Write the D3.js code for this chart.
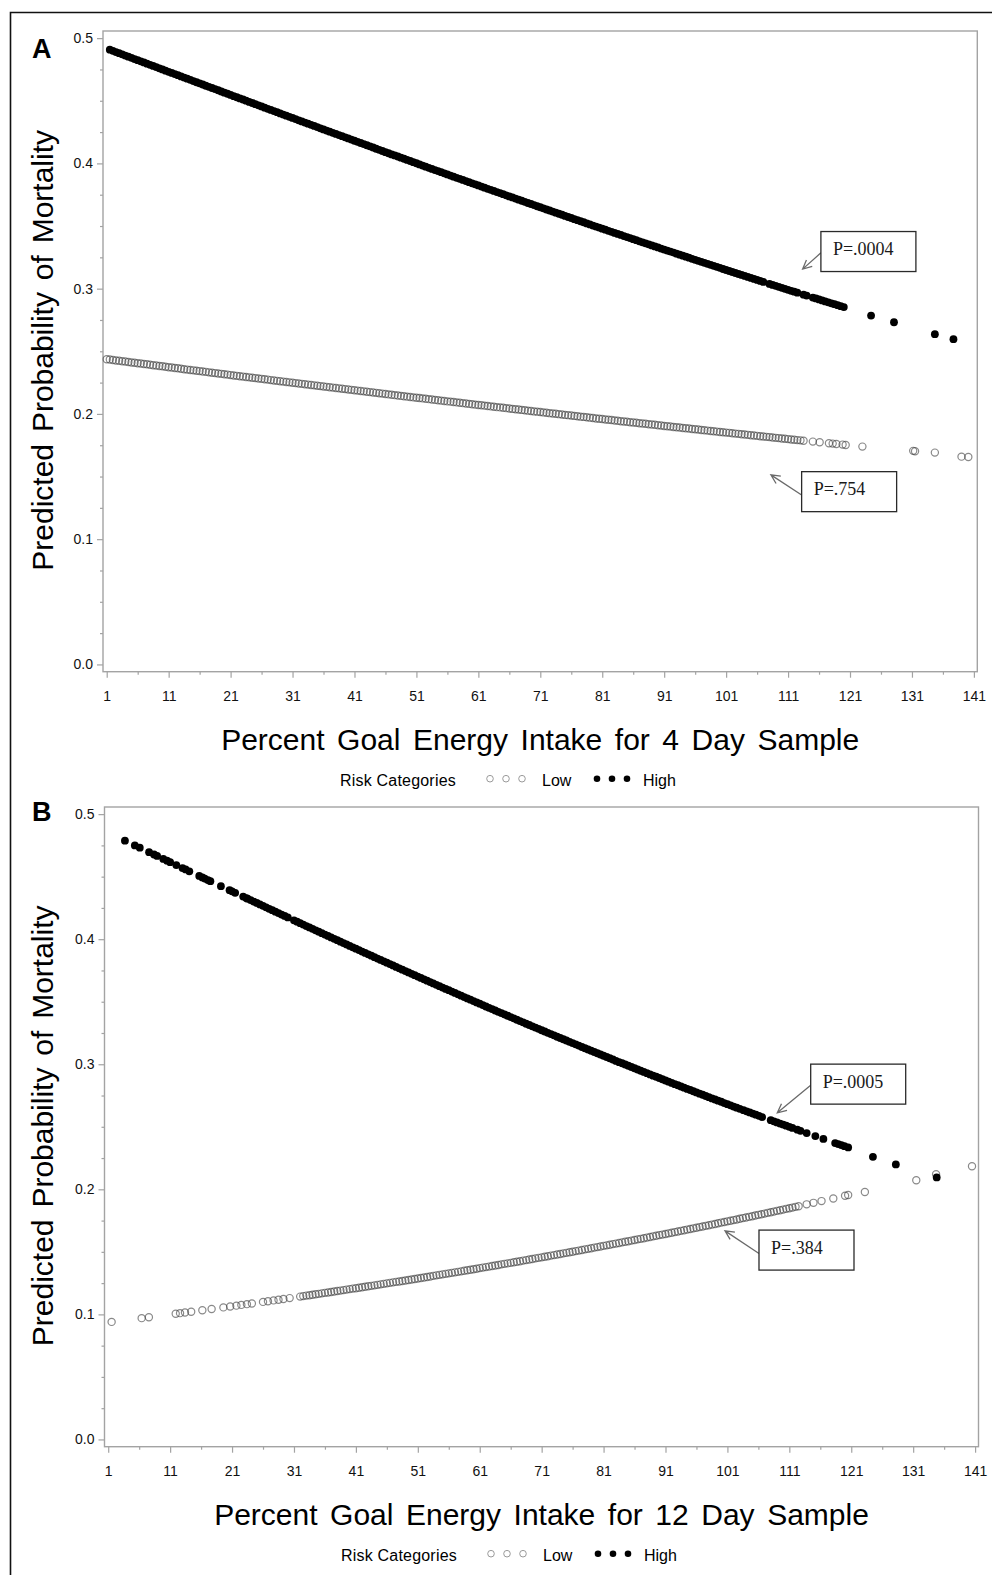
<!DOCTYPE html>
<html>
<head>
<meta charset="utf-8">
<script src="https://cdn.jsdelivr.net/npm/d3@7"></script>
<style>
  body { margin: 0; background: #fff; }
  svg { display: block; }
</style>
</head>
<body>
<svg id="chart"></svg>
<script>
// ---- data ----
const xMajorTicks = [1, 11, 21, 31, 41, 51, 61, 71, 81, 91, 101, 111, 121, 131, 141];
const xMinorTicks = [6, 16, 26, 36, 46, 56, 66, 76, 86, 96, 106, 116, 126, 136];
const yMajorTicks = [0, 0.1, 0.2, 0.3, 0.4, 0.5];
const yMinorTicks = [0.025, 0.05, 0.075, 0.125, 0.15, 0.175, 0.225, 0.25, 0.275, 0.325, 0.35, 0.375, 0.425, 0.45, 0.475];
const groups = ["Low", "High"];
const xTitles = ["Percent Goal Energy Intake for 4 Day Sample", "Percent Goal Energy Intake for 12 Day Sample"];
const yTitle = "Predicted Probability of Mortality";
const legendTitle = "Risk Categories";

// panel A, high risk
const aHighPct = [
  1.5,2,2.5,3,3.5,4,4.5,5,5.5,6, 6.5,7,7.5,8,8.5,9,9.5,10,10.5,11,
  11.5,12,12.5,13,13.5,14,14.5,15,15.5,16, 16.5,17,17.5,18,18.5,19,19.5,20,20.5,21,
  21.5,22,22.5,23,23.5,24,24.5,25,25.5,26, 26.5,27,27.5,28,28.5,29,29.5,30,30.5,31,
  31.5,32,32.5,33,33.5,34,34.5,35,35.5,36, 36.5,37,37.5,38,38.5,39,39.5,40,40.5,41,
  41.5,42,42.5,43,43.5,44,44.5,45,45.5,46, 46.5,47,47.5,48,48.5,49,49.5,50,50.5,51,
  51.5,52,52.5,53,53.5,54,54.5,55,55.5,56, 56.5,57,57.5,58,58.5,59,59.5,60,60.5,61,
  61.5,62,62.5,63,63.5,64,64.5,65,65.5,66, 66.5,67,67.5,68,68.5,69,69.5,70,70.5,71,
  71.5,72,72.5,73,73.5,74,74.5,75,75.5,76, 76.5,77,77.5,78,78.5,79,79.5,80,80.5,81,
  81.5,82,82.5,83,83.5,84,84.5,85,85.5,86, 86.5,87,87.5,88,88.5,89,89.5,90,90.5,91,
  91.5,92,92.5,93,93.5,94,94.5,95,95.5,96, 96.5,97,97.5,98,98.5,99,99.5,100,100.5,101,
  101.5,102,102.5,103,103.5,104,104.5,105,105.5,106,
  106.5,107,108,108.5,109,109.5,110,110.5,111,111.5, 112,112.5,113.5,114,115,115.5,116,116.5,117,117.5,
  118,118.5,119,119.5,120,124.4,128.1,134.7,137.7
];
const aHighProb = [
  .4908,.4899,.4889,.4880,.4871,.4861,.4852,.4843,.4833,.4824, .4815,.4806,.4796,.4787,.4778,.4769,.4759,.4750,.4740,.4731,
  .4722,.4713,.4704,.4694,.4685,.4676,.4667,.4657,.4648,.4639, .4630,.4620,.4611,.4602,.4593,.4584,.4574,.4565,.4556,.4547,
  .4537,.4528,.4519,.4510,.4501,.4491,.4482,.4473,.4464,.4455, .4445,.4436,.4427,.4418,.4409,.4399,.4390,.4381,.4372,.4363,
  .4354,.4344,.4335,.4326,.4317,.4308,.4299,.4290,.4280,.4271, .4262,.4253,.4244,.4235,.4226,.4217,.4208,.4199,.4190,.4181,
  .4172,.4163,.4154,.4145,.4136,.4127,.4117,.4108,.4099,.4090, .4081,.4072,.4064,.4055,.4046,.4037,.4028,.4019,.4010,.4001,
  .3992,.3983,.3974,.3965,.3956,.3947,.3939,.3930,.3921,.3912, .3903,.3894,.3885,.3877,.3868,.3859,.3850,.3841,.3833,.3824,
  .3815,.3806,.3797,.3789,.3780,.3771,.3763,.3754,.3745,.3736, .3728,.3719,.3710,.3702,.3693,.3684,.3676,.3667,.3658,.3650,
  .3641,.3632,.3624,.3615,.3607,.3598,.3590,.3581,.3572,.3564, .3555,.3547,.3538,.3530,.3521,.3513,.3504,.3496,.3488,.3479,
  .3471,.3462,.3454,.3445,.3437,.3429,.3420,.3412,.3404,.3395, .3387,.3378,.3370,.3362,.3354,.3345,.3337,.3329,.3320,.3312,
  .3304,.3296,.3288,.3279,.3271,.3263,.3255,.3247,.3238,.3230, .3222,.3214,.3206,.3198,.3190,.3182,.3174,.3166,.3157,.3149,
  .3141,.3133,.3125,.3117,.3110,.3102,.3094,.3086,.3078,.3070,
  .3062,.3054,.3038,.3030,.3023,.3015,.3007,.2999,.2991,.2983, .2976,.2968,.2952,.2945,.2929,.2922,.2914,.2906,.2898,.2891,
  .2883,.2876,.2868,.2860,.2853,.2785,.2732,.2637,.2597
];

// panel A, low risk
const aLowPct = [
  1,1.5,2,2.5,3,3.5,4,4.5,5,5.5,6,6.5,7,7.5,8,8.5,9,9.5,10,10.5,
  11,11.5,12,12.5,13,13.5,14,14.5,15,15.5,16,16.5,17,17.5,18,18.5,19,19.5,20,20.5,
  21,21.5,22,22.5,23,23.5,24,24.5,25,25.5,26,26.5,27,27.5,28,28.5,29,29.5,30,30.5,
  31,31.5,32,32.5,33,33.5,34,34.5,35,35.5,36,36.5,37,37.5,38,38.5,39,39.5,40,40.5,
  41,41.5,42,42.5,43,43.5,44,44.5,45,45.5,46,46.5,47,47.5,48,48.5,49,49.5,50,50.5,
  51,51.5,52,52.5,53,53.5,54,54.5,55,55.5,56,56.5,57,57.5,58,58.5,59,59.5,60,60.5,
  61,61.5,62,62.5,63,63.5,64,64.5,65,65.5,66,66.5,67,67.5,68,68.5,69,69.5,70,70.5,
  71,71.5,72,72.5,73,73.5,74,74.5,75,75.5,76,76.5,77,77.5,78,78.5,79,79.5,80,80.5,
  81,81.5,82,82.5,83,83.5,84,84.5,85,85.5,86,86.5,87,87.5,88,88.5,89,89.5,90,90.5,
  91,91.5,92,92.5,93,93.5,94,94.5,95,95.5,96,96.5,97,97.5,98,98.5,99,99.5,100,100.5,
  101,101.5,102,102.5,103,103.5,104,104.5,105,105.5,106,106.5,107,107.5,108,108.5,109,109.5,110,110.5,
  111,111.5,112,112.5,113,113.5,
  115,116.1,117.6,118.2,118.8,119.8,120.3,123,131.2,131.5,134.7,139,140.1
];
const aLowProb = [
  .2437,.2434,.2431,.2427,.2424,.2421,.2418,.2415,.2411,.2408,.2405,.2402,.2399,.2396,.2392,.2389,.2386,.2383,.2380,.2376,
  .2373,.2370,.2367,.2364,.2361,.2357,.2354,.2351,.2348,.2345,.2342,.2339,.2336,.2332,.2329,.2326,.2323,.2320,.2317,.2314,
  .2310,.2307,.2304,.2301,.2298,.2295,.2292,.2289,.2286,.2283,.2280,.2277,.2274,.2270,.2267,.2264,.2261,.2258,.2255,.2252,
  .2249,.2246,.2243,.2240,.2237,.2234,.2231,.2228,.2225,.2222,.2219,.2216,.2213,.2210,.2207,.2204,.2201,.2198,.2195,.2192,
  .2189,.2186,.2183,.2180,.2177,.2174,.2171,.2168,.2165,.2162,.2159,.2156,.2153,.2150,.2147,.2144,.2141,.2138,.2135,.2132,
  .2129,.2127,.2124,.2121,.2118,.2115,.2112,.2109,.2106,.2103,.2100,.2098,.2095,.2092,.2089,.2086,.2083,.2080,.2077,.2074,
  .2071,.2069,.2066,.2063,.2060,.2057,.2054,.2052,.2049,.2046,.2043,.2040,.2037,.2035,.2032,.2029,.2026,.2023,.2020,.2018,
  .2015,.2012,.2009,.2006,.2003,.2001,.1998,.1995,.1992,.1990,.1987,.1984,.1981,.1978,.1976,.1973,.1970,.1967,.1964,.1962,
  .1959,.1956,.1953,.1951,.1948,.1945,.1942,.1940,.1937,.1934,.1932,.1929,.1926,.1923,.1921,.1918,.1915,.1913,.1910,.1907,
  .1904,.1902,.1899,.1896,.1894,.1891,.1888,.1886,.1883,.1880,.1878,.1875,.1872,.1870,.1867,.1864,.1862,.1859,.1856,.1854,
  .1851,.1849,.1846,.1843,.1841,.1838,.1836,.1833,.1830,.1828,.1825,.1822,.1820,.1817,.1815,.1812,.1809,.1807,.1804,.1802,
  .1799,.1796,.1794,.1791,.1789,.1786,
  .1779,.1774,.1766,.1763,.1760,.1755,.1752,.1739,.1705,.1702,.1691,.1659,.1656
];

// panel B, high risk
const bHighPct = [
  3.7,5.3,6.1,7.6,8.4,8.9,9.9,10.5,11,12,13,13.5,14.1,15.7,16.2,16.6,17.1,17.5,19.2,20.6,21,21.5,22.8,23.3,
  23.5,24,24.5,25,25.5,26,26.5,27,27.5,28,28.5,29,29.5,30,
  31,31.5,32,32.5,33,33.5,34,34.5,35,35.5, 36,36.5,37,37.5,38,38.5,39,39.5,40,40.5,
  41,41.5,42,42.5,43,43.5,44,44.5,45,45.5, 46,46.5,47,47.5,48,48.5,49,49.5,50,50.5,
  51,51.5,52,52.5,53,53.5,54,54.5,55,55.5, 56,56.5,57,57.5,58,58.5,59,59.5,60,60.5,
  61,61.5,62,62.5,63,63.5,64,64.5,65,65.5, 66,66.5,67,67.5,68,68.5,69,69.5,70,70.5,
  71,71.5,72,72.5,73,73.5,74,74.5,75,75.5, 76,76.5,77,77.5,78,78.5,79,79.5,80,80.5,
  81,81.5,82,82.5,83,83.5,84,84.5,85,85.5, 86,86.5,87,87.5,88,88.5,89,89.5,90,90.5,
  91,91.5,92,92.5,93,93.5,94,94.5,95,95.5, 96,96.5,97,97.5,98,98.5,99,99.5,100,100.5,
  101,101.5,102,102.5,103,
  103.6,104.1,104.6,105.1,105.6,106.1,106.6,108,108.5,109,109.5,110,110.5,111,111.5,112.3,112.8,113.8,115.2,116.5,
  118.4,118.9,119.4,119.9,120.5,124.5,128.2,134.8
];
const bHighProb = [
  .4788,.4750,.4732,.4696,.4677,.4666,.4642,.4628,.4616,.4593,.4569,.4558,.4543,.4506,.4494,.4485,.4473,.4464,.4424,.4392,.4383,.4371,.4341,.4329,
  .4324,.4313,.4301,.4290,.4278,.4267,.4255,.4243,.4232,.4220,.4209,.4197,.4186,.4174,
  .4151,.4140,.4128,.4117,.4105,.4094,.4083,.4071,.4060,.4048, .4037,.4026,.4014,.4003,.3992,.3980,.3969,.3958,.3946,.3935,
  .3924,.3913,.3901,.3890,.3879,.3868,.3856,.3845,.3834,.3823, .3812,.3801,.3790,.3778,.3767,.3756,.3745,.3734,.3723,.3712,
  .3701,.3690,.3679,.3668,.3657,.3646,.3635,.3624,.3613,.3602, .3592,.3581,.3570,.3559,.3548,.3537,.3526,.3516,.3505,.3494,
  .3484,.3473,.3462,.3451,.3441,.3430,.3419,.3409,.3398,.3388, .3377,.3367,.3356,.3345,.3335,.3324,.3314,.3303,.3293,.3283,
  .3272,.3262,.3251,.3241,.3231,.3220,.3210,.3200,.3190,.3179, .3169,.3159,.3149,.3138,.3128,.3118,.3108,.3098,.3088,.3078,
  .3068,.3058,.3048,.3038,.3027,.3017,.3008,.2998,.2988,.2978, .2968,.2958,.2948,.2939,.2929,.2919,.2909,.2900,.2890,.2880,
  .2870,.2861,.2851,.2841,.2832,.2822,.2813,.2803,.2794,.2784, .2775,.2765,.2756,.2746,.2737,.2727,.2718,.2709,.2700,.2690,
  .2681,.2672,.2662,.2653,.2644,
  .2633,.2624,.2615,.2606,.2597,.2588,.2578,.2553,.2544,.2535,.2526,.2518,.2509,.2500,.2491,.2477,.2468,.2450,.2426,.2403,
  .2370,.2362,.2354,.2345,.2335,.2260,.2199,.2095
];

// panel B, low risk
const bLowPct = [
  1.55,6.4,7.57,11.9,12.6,13.4,14.4,16.2,17.7,19.6,20.7,21.7,22.5,23.4,24.2,26,26.8,27.7,28.5,29.3,30.3,
  32,32.5,33,33.5,34,34.5,35,35.5,36,36.5, 37,37.5,38,38.5,39,39.5,40,40.5,41,41.5,
  42,42.5,43,43.5,44,44.5,45,45.5,46,46.5, 47,47.5,48,48.5,49,49.5,50,50.5,51,51.5,
  52,52.5,53,53.5,54,54.5,55,55.5,56,56.5, 57,57.5,58,58.5,59,59.5,60,60.5,61,61.5,
  62,62.5,63,63.5,64,64.5,65,65.5,66,66.5, 67,67.5,68,68.5,69,69.5,70,70.5,71,71.5,
  72,72.5,73,73.5,74,74.5,75,75.5,76,76.5, 77,77.5,78,78.5,79,79.5,80,80.5,81,81.5,
  82,82.5,83,83.5,84,84.5,85,85.5,86,86.5, 87,87.5,88,88.5,89,89.5,90,90.5,91,91.5,
  92,92.5,93,93.5,94,94.5,95,95.5,96,96.5, 97,97.5,98,98.5,99,99.5,100,100.5,101,101.5,
  102,102.5,103,103.5,104,104.5,105,105.5,106,106.5, 107,107.5,108,108.5,109,109.5,110,110.5,111,111.5,
  112,112.5,
  113.8,114.9,116.2,118.1,120,120.5,123.2,131.5,134.7,140.5
];
const bLowProb = [
  .0940,.0970,.0977,.1005,.1010,.1015,.1021,.1033,.1043,.1056,.1063,.1070,.1076,.1082,.1087,.1100,.1105,.1112,.1117,.1123,.1130,
  .1142,.1146,.1150,.1153,.1157,.1161,.1164,.1168,.1172,.1175, .1179,.1183,.1187,.1190,.1194,.1198,.1202,.1206,.1209,.1213,
  .1217,.1221,.1225,.1228,.1232,.1236,.1240,.1244,.1248,.1252, .1256,.1260,.1263,.1267,.1271,.1275,.1279,.1283,.1287,.1291,
  .1295,.1299,.1303,.1308,.1312,.1316,.1320,.1324,.1328,.1332, .1336,.1340,.1344,.1349,.1353,.1357,.1361,.1365,.1370,.1374,
  .1378,.1382,.1387,.1391,.1395,.1400,.1404,.1408,.1412,.1417, .1421,.1425,.1430,.1434,.1439,.1443,.1448,.1452,.1456,.1461,
  .1465,.1470,.1474,.1479,.1483,.1488,.1492,.1497,.1501,.1506, .1510,.1515,.1520,.1524,.1529,.1534,.1538,.1543,.1548,.1552,
  .1557,.1562,.1566,.1571,.1576,.1581,.1585,.1590,.1595,.1600, .1604,.1609,.1614,.1619,.1624,.1629,.1634,.1638,.1643,.1648,
  .1653,.1658,.1663,.1668,.1673,.1678,.1683,.1688,.1693,.1698, .1703,.1708,.1713,.1718,.1723,.1729,.1734,.1739,.1744,.1749,
  .1754,.1759,.1765,.1770,.1775,.1780,.1785,.1791,.1796,.1801, .1806,.1812,.1817,.1822,.1828,.1833,.1838,.1844,.1849,.1854,
  .1860,.1865,
  .1880,.1892,.1906,.1927,.1948,.1954,.1978,.2073,.2121,.2185
];

// p-value callouts
const pLabelsA = ["P=.0004", "P=.754"];
const pLabelsB = ["P=.0005", "P=.384"];

// ---- layout ----
const W = 992, H = 1575;
const pctDomain = [0.4, 141.55];
const probDomain = [-0.0058, 0.5057];
const sans = "'Liberation Sans', Arial, Helvetica, sans-serif";
const serif = "'Liberation Serif', 'Times New Roman', serif";
const frameColor = "#a3a3a3";

const svg = d3.select("#chart").attr("width", W).attr("height", H);
svg.append("rect").attr("width", W).attr("height", H).attr("fill", "#fff");

// outer figure border: only the left and top edges fall inside the picture
svg.append("path")
  .attr("d", `M10.5,${H}V12.5H${W}`)
  .attr("fill", "none")
  .attr("stroke", "#111")
  .attr("stroke-width", 1.6);

const panels = [
  {
    letter: "A", letterY: 57.5,
    left: 103, top: 31, width: 874.3, height: 640.7,
    title: xTitles[0],
    low: { pct: aLowPct, prob: aLowProb },
    high: { pct: aHighPct, prob: aHighProb },
    notes: [
      { text: pLabelsA[0], pct: 116.3, prob: 0.3456, tailProb: 0.3286, tipPct: 113.35, tipProb: 0.3156 },
      { text: pLabelsA[1], pct: 113.19, prob: 0.1539, tailProb: 0.1353, tipPct: 108.23, tipProb: 0.1513 }
    ],
    legendX: 340
  },
  {
    letter: "B", letterY: 821,
    left: 104.5, top: 807, width: 874, height: 639.7,
    title: xTitles[1],
    low: { pct: bLowPct, prob: bLowProb },
    high: { pct: bHighPct, prob: bHighProb },
    notes: [
      { text: pLabelsB[0], pct: 114.45, prob: 0.3001, tailProb: 0.2833, tipPct: 109.06, tipProb: 0.2612 },
      { text: pLabelsB[1], pct: 106.1, prob: 0.1674, tailProb: 0.1487, tipPct: 100.61, tipProb: 0.1668 }
    ],
    legendX: 341
  }
];

function zip(s) {
  const n = Math.min(s.pct.length, s.prob.length);
  return d3.range(n).map(i => ({ pct: s.pct[i], prob: s.prob[i] }));
}

function styleAxis(sel) {
  sel.select(".domain").remove();
  sel.selectAll(".tick line").attr("stroke", frameColor).attr("stroke-width", 1.2);
  sel.selectAll(".tick text")
    .attr("fill", "#111")
    .style("font-family", sans)
    .style("font-size", "14px");
}

function drawPanel(cfg) {
  const bottom = cfg.top + cfg.height;
  const x = d3.scaleLinear().domain(pctDomain).range([cfg.left, cfg.left + cfg.width]);
  const y = d3.scaleLinear().domain(probDomain).range([bottom, cfg.top]);
  const g = svg.append("g").attr("class", `panel panel-${cfg.letter}`);

  // axes: major ticks with labels, minor ticks without
  g.append("g")
    .attr("transform", `translate(${cfg.left},0)`)
    .call(d3.axisLeft(y).tickValues(yMajorTicks).tickSize(6).tickPadding(4).tickFormat(d3.format(".1f")))
    .call(styleAxis);
  g.append("g")
    .attr("transform", `translate(${cfg.left},0)`)
    .call(d3.axisLeft(y).tickValues(yMinorTicks).tickSize(3).tickFormat(""))
    .call(styleAxis);
  g.append("g")
    .attr("transform", `translate(0,${bottom})`)
    .call(d3.axisBottom(x).tickValues(xMajorTicks).tickSize(6).tickPadding(13).tickFormat(d3.format("d")))
    .call(styleAxis);
  g.append("g")
    .attr("transform", `translate(0,${bottom})`)
    .call(d3.axisBottom(x).tickValues(xMinorTicks).tickSize(3).tickFormat(""))
    .call(styleAxis);

  // plot wall frame
  g.append("rect")
    .attr("x", cfg.left)
    .attr("y", cfg.top)
    .attr("width", cfg.width)
    .attr("height", cfg.height)
    .attr("fill", "none")
    .attr("stroke", frameColor)
    .attr("stroke-width", 1.4);

  // low risk: open grey circles (drawn first)
  g.append("g")
    .selectAll("circle")
    .data(zip(cfg.low))
    .enter()
    .append("circle")
    .attr("cx", d => x(d.pct))
    .attr("cy", d => y(d.prob))
    .attr("r", 3.6)
    .attr("fill", "none")
    .attr("stroke", "#3a3a3a")
    .attr("stroke-opacity", 0.6)
    .attr("stroke-width", 1.2);

  // high risk: filled black dots
  g.append("g")
    .selectAll("circle")
    .data(zip(cfg.high))
    .enter()
    .append("circle")
    .attr("cx", d => x(d.pct))
    .attr("cy", d => y(d.prob))
    .attr("r", 3.9)
    .attr("fill", "#000");

  // p-value callouts with arrows
  const boxW = 95, boxH = 40;
  cfg.notes.forEach(n => {
    const bx = x(n.pct), by = y(n.prob);
    const tx = bx, ty = y(n.tailProb);
    const hx = x(n.tipPct), hy = y(n.tipProb);
    const ang = Math.atan2(ty - hy, tx - hx);
    const barb = 10, spread = 0.45;
    g.append("path")
      .attr("d", `M${tx},${ty}L${hx},${hy}` +
        `M${hx + barb * Math.cos(ang - spread)},${hy + barb * Math.sin(ang - spread)}L${hx},${hy}` +
        `L${hx + barb * Math.cos(ang + spread)},${hy + barb * Math.sin(ang + spread)}`)
      .attr("fill", "none")
      .attr("stroke", "#6a6a6a")
      .attr("stroke-width", 1.3);
    g.append("rect")
      .attr("x", bx)
      .attr("y", by)
      .attr("width", boxW)
      .attr("height", boxH)
      .attr("fill", "#fff")
      .attr("stroke", "#2a2a2a")
      .attr("stroke-width", 1.3);
    g.append("text")
      .attr("x", bx + 12)
      .attr("y", by + 23.5)
      .style("font-family", serif)
      .style("font-size", "18px")
      .attr("fill", "#1a1a1a")
      .text(n.text);
  });

  // panel letter
  g.append("text")
    .attr("x", 32)
    .attr("y", cfg.letterY)
    .style("font-family", sans)
    .style("font-weight", "bold")
    .style("font-size", "27px")
    .text(cfg.letter);

  // axis titles
  g.append("text")
    .attr("transform", `translate(53,${cfg.top + cfg.height / 2 - 1}) rotate(-90)`)
    .attr("text-anchor", "middle")
    .style("font-family", sans)
    .style("font-size", "30px")
    .style("word-spacing", "3.5px")
    .text(yTitle);
  g.append("text")
    .attr("x", cfg.left + cfg.width / 2)
    .attr("y", bottom + 78)
    .attr("text-anchor", "middle")
    .style("font-family", sans)
    .style("font-size", "30px")
    .style("word-spacing", "4.2px")
    .text(cfg.title);

  // legend
  const ly = bottom + 107;
  const lg = g.append("g").attr("transform", `translate(${cfg.legendX},${ly})`);
  lg.append("text")
    .attr("y", 7.5)
    .style("font-family", sans)
    .style("font-size", "16px")
    .style("letter-spacing", "0.2px")
    .text(legendTitle);
  [150, 166, 182].forEach(dx => {
    lg.append("circle").attr("cx", dx).attr("cy", 0).attr("r", 3.3)
      .attr("fill", "none").attr("stroke", "#9a9a9a").attr("stroke-width", 1);
  });
  lg.append("text").attr("x", 202).attr("y", 7.5)
    .style("font-family", sans).style("font-size", "16px").text(groups[0]);
  [257, 272, 287].forEach(dx => {
    lg.append("circle").attr("cx", dx).attr("cy", 0).attr("r", 3.3).attr("fill", "#000");
  });
  lg.append("text").attr("x", 303).attr("y", 7.5)
    .style("font-family", sans).style("font-size", "16px").text(groups[1]);
}

panels.forEach(drawPanel);
</script>
</body>
</html>
